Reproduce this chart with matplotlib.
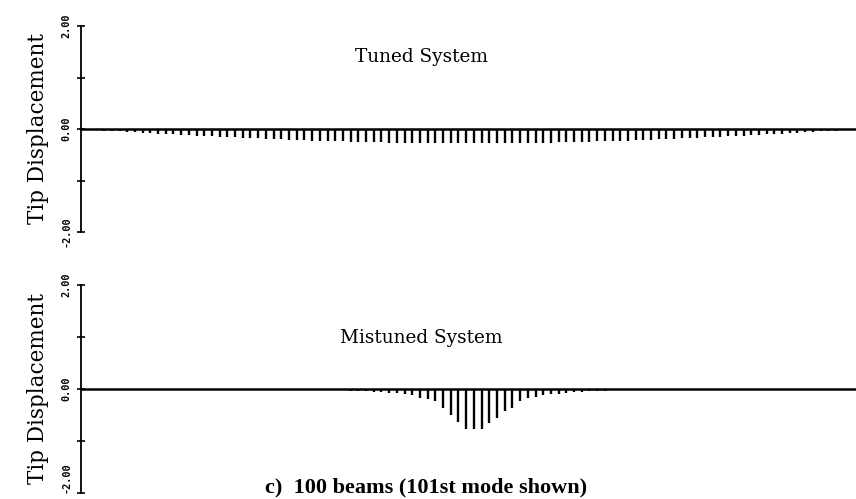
import matplotlib
matplotlib.use("Agg")
import matplotlib.pyplot as plt
from matplotlib.transforms import ScaledTranslation

beams = list(range(1, 101))

tuned_half = [0.01, 0.02, 0.03, 0.035, 0.04, 0.05, 0.06, 0.07, 0.08, 0.09,
              0.09, 0.10, 0.11, 0.12, 0.13, 0.13, 0.14, 0.15, 0.16, 0.16,
              0.17, 0.18, 0.18, 0.19, 0.20, 0.20, 0.21, 0.21, 0.22, 0.23,
              0.23, 0.24, 0.24, 0.24, 0.25, 0.25, 0.26, 0.26, 0.26, 0.27,
              0.27, 0.27, 0.27, 0.27, 0.28, 0.28, 0.28, 0.28, 0.28, 0.28]
tuned = [-v for v in tuned_half] + [-v for v in tuned_half[::-1]]

mistuned = [0.0] * 25 + [
    0.005, 0.005, 0.01, 0.01, 0.01,          # 26-30
    0.01, 0.015, 0.02, 0.02, 0.03,           # 31-35
    0.03, 0.04, 0.05, 0.06, 0.08,            # 36-40
    0.08, 0.10, 0.115, 0.17, 0.19,           # 41-45
    0.24, 0.36, 0.50, 0.64, 0.77,            # 46-50
    0.77, 0.77, 0.66, 0.55, 0.42,            # 51-55
    0.36, 0.24, 0.18, 0.15, 0.115,           # 56-60
    0.10, 0.10, 0.08, 0.06, 0.05,            # 61-65
    0.04, 0.035, 0.03, 0.025, 0.02,          # 66-70
    0.015, 0.01, 0.01, 0.005, 0.005,         # 71-75
] + [0.0] * 25
mistuned = [-v for v in mistuned]

ytick_vals = [-2, -1, 0, 1, 2]
ytick_labels = ["-2.00", "", "0.00", "", "2.00"]
titles = ["Tuned System", "Mistuned System"]
ylabel = "Tip Displacement"
caption = "c)  100 beams (101st mode shown)"

W, H = 856, 499
fig = plt.figure(figsize=(W / 100, H / 100), dpi=100)

boxes = [(81, 26, 232), (81, 285, 493)]
title_y = [0.85, 0.745]
series = [tuned, mistuned]
for i, ((x0, ytop, ybot), vals, title) in enumerate(zip(boxes, series, titles)):
    ax = fig.add_axes([x0 / W, 1 - ybot / H, (W - x0) / W, (ybot - ytop) / H])
    ax.set_xlim(0, 100.6)
    ax.set_ylim(-2, 2)
    ax.axhline(0, color="black", lw=1.8, zorder=3)
    ax.vlines(beams, 0, vals, color="black", lw=1.7)
    for s in ["top", "right", "bottom"]:
        ax.spines[s].set_visible(False)
    ax.spines["left"].set_linewidth(1.3)
    ax.set_xticks([])
    ax.set_yticks(ytick_vals)
    ax.set_yticklabels(ytick_labels, rotation=90, va="center",
                       fontsize=7.3, fontweight="bold", family="DejaVu Sans Mono")
    ax.tick_params(axis="y", direction="inout", length=6, width=1.2, pad=4)
    if i == 1:
        lbl = ax.get_yticklabels()[0]
        lbl.set_transform(lbl.get_transform() +
                          ScaledTranslation(0, 11 / 72, fig.dpi_scale_trans))
    ax.set_ylabel(ylabel, fontsize=15.5, family="DejaVu Serif", labelpad=9)
    ax.text(0.439, title_y[i], title, transform=ax.transAxes, ha="center",
            va="center", fontsize=13.3, family="DejaVu Serif")

fig.text(426 / W, 1 - 487 / H, caption, ha="center", va="center",
         fontsize=16, fontweight="bold", family="Liberation Serif")

fig.savefig("out.png", dpi=100)
